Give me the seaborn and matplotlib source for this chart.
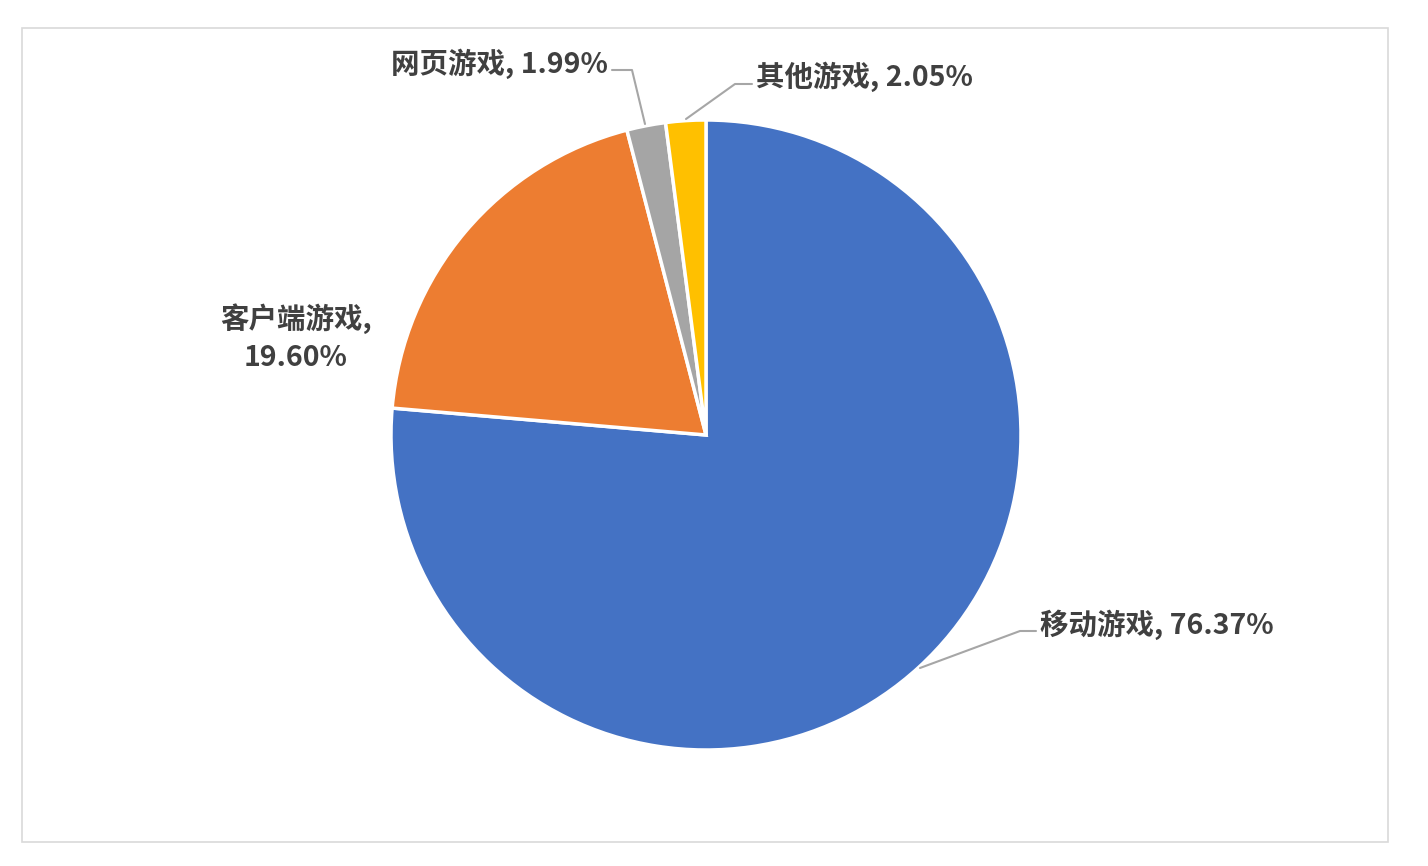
import matplotlib
matplotlib.use("Agg")
import matplotlib.pyplot as plt
import seaborn as sns
from matplotlib.patches import Rectangle

categories = ["移动游戏", "客户端游戏", "网页游戏", "其他游戏"]
shares = [76.37, 19.60, 1.99, 2.05]
colors = ["#4472C4", "#ED7D31", "#A5A5A5", "#FFC000"]

sns.set_theme(style="white")
plt.rcParams["font.family"] = ["Noto Sans CJK SC", "DejaVu Sans"]

W, H = 1428, 866
fig = plt.figure(figsize=(W / 100, H / 100), dpi=100)
fig.patch.set_facecolor("white")
fig.patches.append(Rectangle((22 / W, 1 - 842 / H), (1388 - 22) / W, (842 - 28) / H,
                             transform=fig.transFigure, fill=False,
                             edgecolor="#D9D9D9", linewidth=1.2))

cx, cy, r = 706, 435, 315
ax = fig.add_axes([(cx - r) / W, (H - cy - r) / H, 2 * r / W, 2 * r / H])

ax.pie(shares, colors=sns.color_palette(colors), startangle=90, counterclock=False,
       radius=1, wedgeprops=dict(edgecolor="white", linewidth=2.5))
ax.set_xlim(-1, 1)
ax.set_ylim(-1, 1)
ax.set_aspect("equal")
ax.axis("off")


def d(px, py):
    return ((px - cx) / r, (cy - py) / r)


txt = dict(fontsize=20.5, fontweight="bold", color="#404040")
line = dict(color="#A6A6A6", linewidth=1.5)

# 网页游戏
ax.plot(*zip(d(612, 70), d(632, 70), d(645, 124)), clip_on=False, **line)
ax.text(*d(608, 64), f"{categories[2]}, {shares[2]:.2f}%", ha="right", va="center", **txt)

# 其他游戏
ax.plot(*zip(d(752, 84), d(735, 84), d(686, 119)), clip_on=False, **line)
ax.text(*d(756, 77), f"{categories[3]}, {shares[3]:.2f}%", ha="left", va="center", **txt)

# 客户端游戏
ax.text(*d(296, 338), f"{categories[1]},\n{shares[1]:.2f}%", ha="center", va="center",
        linespacing=1.45, **txt)

# 移动游戏
ax.plot(*zip(d(1036, 631), d(1020, 631), d(920, 668)), clip_on=False, **line)
ax.text(*d(1040, 625), f"{categories[0]}, {shares[0]:.2f}%", ha="left", va="center", **txt)

fig.savefig("out.png", dpi=100)
